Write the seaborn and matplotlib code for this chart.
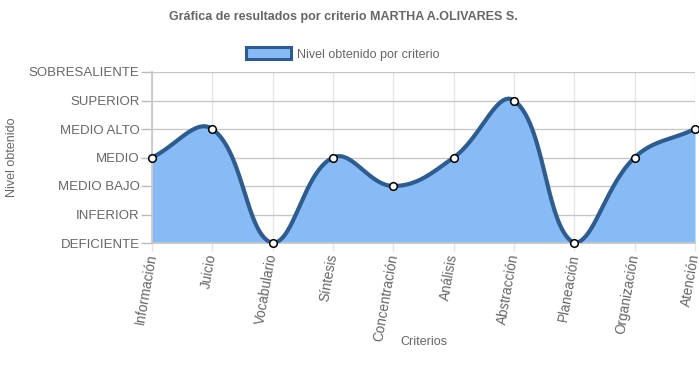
import numpy as np
import pandas as pd
import matplotlib
matplotlib.use("Agg")
import matplotlib.pyplot as plt
import seaborn as sns
from matplotlib.patches import Patch

criterios = ["Información", "Juicio", "Vocabulario", "Síntesis", "Concentración",
             "Análisis", "Abstracción", "Planeación", "Organización", "Atención"]
niveles = [3, 4, 0, 3, 2, 3, 5, 0, 3, 4]
etiquetas_nivel = ["DEFICIENTE", "INFERIOR", "MEDIO BAJO", "MEDIO",
                   "MEDIO ALTO", "SUPERIOR", "SOBRESALIENTE"]

titulo = "Gráfica de resultados por criterio MARTHA A.OLIVARES S."
serie = "Nivel obtenido por criterio"

FILL = "#88BBF5"
LINE = "#2F5C8F"
GREY = "#666666"

sns.set_theme(style="white")
plt.rcParams["font.family"] = ["Liberation Sans", "DejaVu Sans"]

fig = plt.figure(figsize=(6.99, 3.82), dpi=100)
L, R, T, B = 152, 695, 72, 243
W, H = 699, 382
ax = fig.add_axes([L / W, 1 - B / H, (R - L) / W, (B - T) / H])

n = len(criterios)
ymax = len(etiquetas_nivel) - 1
# pixel scale factors (for Chart.js-like spline computed in pixel space)
sx = (R - L) / (n - 1)
sy = (B - T) / ymax

xs = np.arange(n, dtype=float)
ys = np.array(niveles, dtype=float)
P = np.column_stack([xs * sx, ys * sy])
tension = 0.4
cp_prev = np.zeros_like(P)
cp_next = np.zeros_like(P)
for i in range(n):
    prev = P[i - 1] if i > 0 else P[i]
    cur = P[i]
    nxt = P[i + 1] if i < n - 1 else P[i]
    d01 = np.hypot(*(cur - prev))
    d12 = np.hypot(*(nxt - cur))
    tot = d01 + d12
    s01 = d01 / tot if tot else 0
    s12 = d12 / tot if tot else 0
    fa = tension * s01
    fb = tension * s12
    cp_prev[i] = cur - fa * (nxt - prev)
    cp_next[i] = cur + fb * (nxt - prev)
# cap to chart area
for c in (cp_prev, cp_next):
    c[:, 0] = np.clip(c[:, 0], 0, (n - 1) * sx)
    c[:, 1] = np.clip(c[:, 1], 0, ymax * sy)

cx, cy = [], []
t = np.linspace(0, 1, 60)
for i in range(n - 1):
    p0, p1, p2, p3 = P[i], cp_next[i], cp_prev[i + 1], P[i + 1]
    seg = ((1 - t) ** 3)[:, None] * p0 + (3 * (1 - t) ** 2 * t)[:, None] * p1 \
        + (3 * (1 - t) * t ** 2)[:, None] * p2 + (t ** 3)[:, None] * p3
    cx.extend(seg[:, 0] / sx)
    cy.extend(seg[:, 1] / sy)
curve = pd.DataFrame({"x": cx, "y": cy})
pts = pd.DataFrame({"x": xs, "y": ys})

ax.fill_between(curve["x"], 0, curve["y"], color=FILL, lw=0, zorder=2)
sns.lineplot(data=curve, x="x", y="y", ax=ax, color=LINE, lw=3, sort=False,
             zorder=3, estimator=None)
sns.scatterplot(data=pts, x="x", y="y", ax=ax, color="white", edgecolor="black",
                s=30, linewidth=1.1, zorder=4, clip_on=False)

ax.set_xlim(0, n - 1)
ax.set_ylim(0, ymax)
ax.set_xticks(xs)
ax.set_xticklabels(criterios, rotation=80, ha="right", va="center",
                   rotation_mode="anchor", color=GREY, fontsize=9.8)
ax.set_yticks(range(len(etiquetas_nivel)))
ax.set_yticklabels(etiquetas_nivel, color=GREY, fontsize=9.5)
ax.tick_params(axis="y", length=8, width=1, color="#bbbbbb", pad=1, left=True)
ax.tick_params(axis="x", length=6, width=1, color="#e5e5e5", pad=2, bottom=True)
ax.grid(axis="y", color="#c8c8c8", lw=1, zorder=1)
ax.grid(axis="x", color="#e6e6e6", lw=1, zorder=1)
ax.set_axisbelow(True)
for s in ["top", "right"]:
    ax.spines[s].set_visible(False)
ax.spines["left"].set_color("#c8c8c8")
ax.spines["bottom"].set_color("#c8c8c8")
ax.set_xlabel("Criterios", color=GREY, fontsize=9)
ax.xaxis.set_label_coords((424 - L) / (R - L), -(336 - B) / (B - T))
ax.set_ylabel("Nivel obtenido", color=GREY, fontsize=9)
ax.yaxis.set_label_coords(-(L - 18) / (R - L), 1 - (157 - T) / (B - T))

fig.text(343 / W, 1 - 17 / H, titulo, ha="center", va="center",
         fontsize=9, fontweight="bold", color=GREY)

handle = Patch(facecolor=FILL, edgecolor=LINE, linewidth=2.2)
fig.legend(handles=[handle], labels=[serie], loc="center",
           bbox_to_anchor=(343 / W, 1 - 54 / H), frameon=False, fontsize=9,
           handlelength=3.6, handleheight=1.1, handletextpad=0.5,
           labelcolor=GREY)

fig.savefig("out.png", dpi=100)
